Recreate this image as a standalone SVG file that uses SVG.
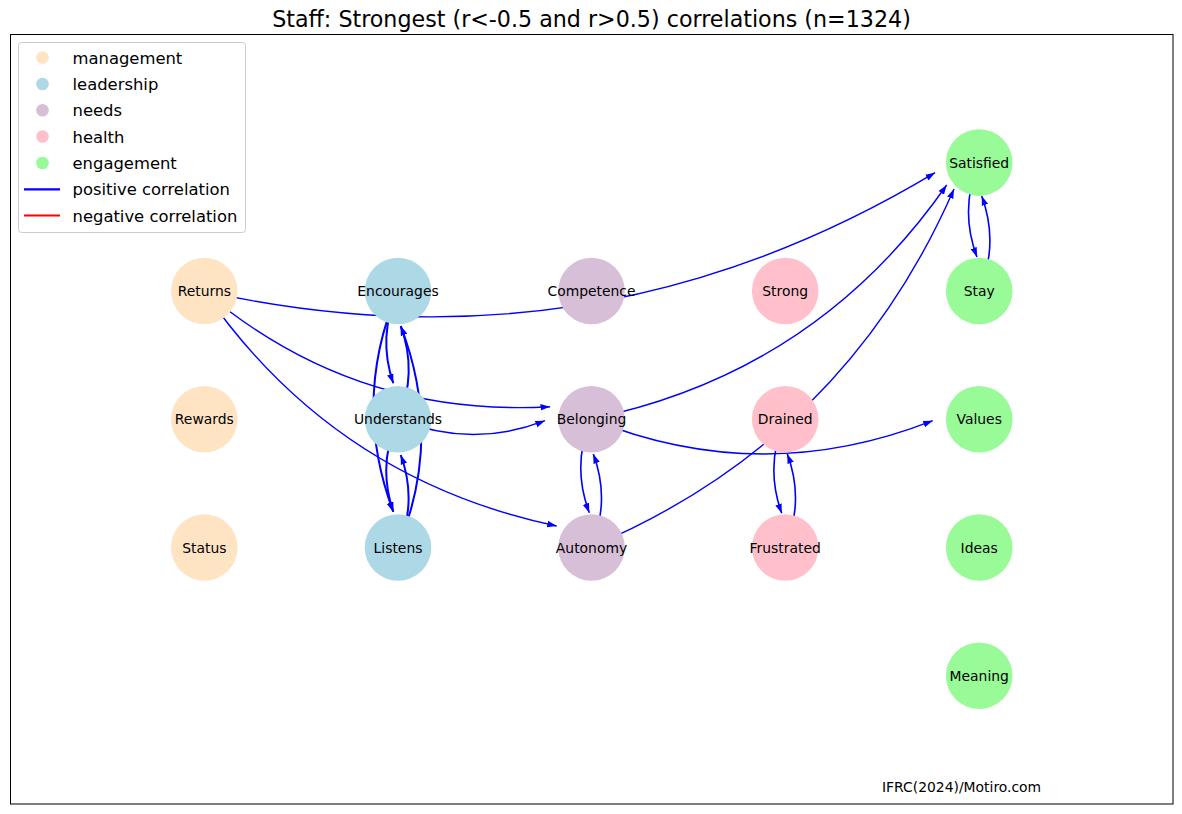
<svg xmlns="http://www.w3.org/2000/svg" width="1182" height="814" viewBox="0 0 1182 814">
<style>
  text { font-family: "DejaVu Sans", "Liberation Sans", sans-serif; fill: #000; }
  .title { font-size: 22.2px; text-anchor: middle; }
  .lbl { font-size: 13.9px; text-anchor: middle; }
  .leg { font-size: 16.4px; }
  .foot { font-size: 13.9px; }
  .edge { fill: none; stroke: #0000ff; stroke-width: 1.4; marker-end: url(#arrow); }
  .thick { stroke-width: 2; }
  .mid { stroke-width: 1.6; }
  .management { fill: #ffe4c4; }
  .leadership { fill: #add8e6; }
  .needs { fill: #d8bfd8; }
  .health { fill: #ffc0cb; }
  .engagement { fill: #98fb98; }
</style>
<defs>
  <marker id="arrow" markerUnits="userSpaceOnUse" markerWidth="12" markerHeight="10" refX="9.5" refY="4" orient="auto" viewBox="0 0 12 10">
    <path d="M0,0.7 L9.5,4 L0,7.3 Z" fill="#0000ff"/>
  </marker>
</defs>
<rect x="0" y="0" width="1182" height="814" fill="#ffffff"/>
<text class="title" x="591.5" y="27">Staff: Strongest (r&lt;-0.5 and r&gt;0.5) correlations (n=1324)</text>
<rect x="10.5" y="34.5" width="1162.5" height="769.5" fill="none" stroke="#000" stroke-width="1"/>

<g id="connectors">
  <path class="edge" d="M204,291 Q593.2,378 935,172.7"/>
  <path class="edge" d="M204,291 Q353.9,418 550,406.7"/>
  <path class="edge" d="M204,291 Q333.4,479 556.7,526"/>
  <path class="edge thick" d="M398,291 Q377.2,336.2 393.3,383.3"/>
  <path class="edge thick" d="M398,419 Q418,373 400.7,326"/>
  <path class="edge thick" d="M398,291 Q351.5,400.4 393.3,511.7"/>
  <path class="edge thick" d="M398,547 Q443.5,437 400.7,326"/>
  <path class="edge thick" d="M398,419 Q377.1,464.4 393.3,511.7"/>
  <path class="edge thick" d="M398,547 Q417.8,501.5 400.7,455"/>
  <path class="edge" d="M398,419 Q471.2,449.2 545,420.7"/>
  <path class="edge" d="M591,419 Q815.7,373.1 946.7,185"/>
  <path class="edge" d="M591,547 Q844.1,440.6 954,189"/>
  <path class="edge" d="M591,419 Q761.5,488.2 932.7,420.7"/>
  <path class="edge mid" d="M591,419 Q571.4,465.5 589.3,512.7"/>
  <path class="edge mid" d="M591,547 Q610.8,501 593.3,454"/>
  <path class="edge mid" d="M785,419 Q764.5,465.5 781.7,513.3"/>
  <path class="edge mid" d="M785,547 Q804.8,501 787.3,454"/>
  <path class="edge mid" d="M979,162 Q959,209.1 977,257"/>
  <path class="edge mid" d="M979,291 Q999.4,244 981.7,196"/>
</g>

<g id="node-returns"><circle class="management" cx="204.3" cy="291" r="33.3"/><text class="lbl" x="204.3" y="296">Returns</text></g>
<g id="node-rewards"><circle class="management" cx="204.3" cy="419.2" r="33.3"/><text class="lbl" x="204.3" y="424.2">Rewards</text></g>
<g id="node-status"><circle class="management" cx="204.3" cy="547.5" r="33.3"/><text class="lbl" x="204.3" y="552.5">Status</text></g>

<g id="node-encourages"><circle class="leadership" cx="398" cy="291" r="33.3"/><text class="lbl" x="398" y="296">Encourages</text></g>
<g id="node-understands"><circle class="leadership" cx="398" cy="419.2" r="33.3"/><text class="lbl" x="398" y="424.2">Understands</text></g>
<g id="node-listens"><circle class="leadership" cx="398" cy="547.5" r="33.3"/><text class="lbl" x="398" y="552.5">Listens</text></g>

<g id="node-competence"><circle class="needs" cx="591.5" cy="291" r="33.3"/><text class="lbl" x="591.5" y="296">Competence</text></g>
<g id="node-belonging"><circle class="needs" cx="591.5" cy="419.2" r="33.3"/><text class="lbl" x="591.5" y="424.2">Belonging</text></g>
<g id="node-autonomy"><circle class="needs" cx="591.5" cy="547.5" r="33.3"/><text class="lbl" x="591.5" y="552.5">Autonomy</text></g>

<g id="node-strong"><circle class="health" cx="785.2" cy="291" r="33.3"/><text class="lbl" x="785.2" y="296">Strong</text></g>
<g id="node-drained"><circle class="health" cx="785.2" cy="419.2" r="33.3"/><text class="lbl" x="785.2" y="424.2">Drained</text></g>
<g id="node-frustrated"><circle class="health" cx="785.2" cy="547.5" r="33.3"/><text class="lbl" x="785.2" y="552.5">Frustrated</text></g>

<g id="node-satisfied"><circle class="engagement" cx="979.2" cy="162.6" r="33.3"/><text class="lbl" x="979.2" y="167.6">Satisfied</text></g>
<g id="node-stay"><circle class="engagement" cx="979.2" cy="291" r="33.3"/><text class="lbl" x="979.2" y="296">Stay</text></g>
<g id="node-values"><circle class="engagement" cx="979.2" cy="419.2" r="33.3"/><text class="lbl" x="979.2" y="424.2">Values</text></g>
<g id="node-ideas"><circle class="engagement" cx="979.2" cy="547.5" r="33.3"/><text class="lbl" x="979.2" y="552.5">Ideas</text></g>
<g id="node-meaning"><circle class="engagement" cx="979.2" cy="675.8" r="33.3"/><text class="lbl" x="979.2" y="680.8">Meaning</text></g>

<g id="legend">
  <rect x="18.5" y="42.5" width="227" height="190" rx="3" fill="#ffffff" fill-opacity="0.8" stroke="#cccccc" stroke-width="1"/>
  <circle class="management" cx="42.5" cy="57.5" r="6.3"/><text class="leg" x="72.5" y="63.5">management</text>
  <circle class="leadership" cx="42.5" cy="84" r="6.3"/><text class="leg" x="72.5" y="90">leadership</text>
  <circle class="needs" cx="42.5" cy="110.3" r="6.3"/><text class="leg" x="72.5" y="116.3">needs</text>
  <circle class="health" cx="42.5" cy="136.5" r="6.3"/><text class="leg" x="72.5" y="142.5">health</text>
  <circle class="engagement" cx="42.5" cy="163" r="6.3"/><text class="leg" x="72.5" y="169">engagement</text>
  <line x1="24" y1="189.3" x2="60" y2="189.3" stroke="#0000ff" stroke-width="2.2"/><text class="leg" x="72.5" y="195.3">positive correlation</text>
  <line x1="24" y1="215.5" x2="60" y2="215.5" stroke="#ff0000" stroke-width="2.2"/><text class="leg" x="72.5" y="221.5">negative correlation</text>
</g>

<text class="foot" x="882" y="792">IFRC(2024)/Motiro.com</text>
</svg>
